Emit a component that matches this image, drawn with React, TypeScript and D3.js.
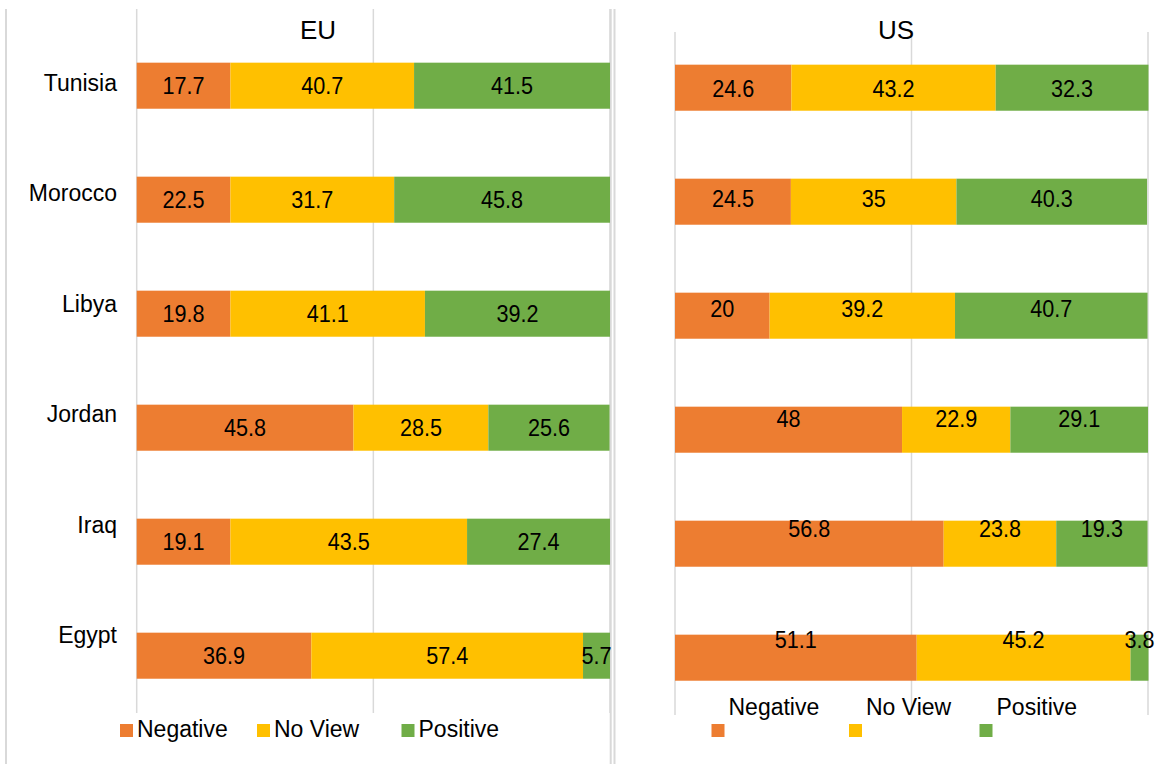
import * as d3 from "d3";

const categories = ["Tunisia", "Morocco", "Libya", "Jordan", "Iraq", "Egypt"];
const seriesNames = ["Negative", "No View", "Positive"];
const seriesColors = ["#ED7D31", "#FFC000", "#70AD47"];
const xTicks = [0, 50, 100];

// EU - numbers printed on the bars
const euNegative = [17.7, 22.5, 19.8, 45.8, 19.1, 36.9];
const euNoView = [40.7, 31.7, 41.1, 28.5, 43.5, 57.4];
const euPositive = [41.5, 45.8, 39.2, 25.6, 27.4, 5.7];

// EU - bar lengths as drawn (some rows don't match their printed numbers)
const euNegativeBar = [19.8, 19.8, 19.8, 45.8, 19.8, 36.9];
const euNoViewBar = [38.8, 34.6, 41.1, 28.5, 50.0, 57.4];
const euPositiveBar = [41.4, 45.6, 39.1, 25.6, 30.2, 5.7];

// US
const usNegative = [24.6, 24.5, 20, 48, 56.8, 51.1];
const usNoView = [43.2, 35, 39.2, 22.9, 23.8, 45.2];
const usPositive = [32.3, 40.3, 40.7, 29.1, 19.3, 3.8];

const FONT = "'Liberation Sans', Arial, sans-serif";
const GRID = "#d9d9d9";

function toRows(a, b, c) {
  return categories.map((cat, i) => ({
    category: cat,
    [seriesNames[0]]: a[i],
    [seriesNames[1]]: b[i],
    [seriesNames[2]]: c[i],
  }));
}

const stacker = d3.stack().keys(seriesNames);

function Panel({
  title,
  titleX,
  barRows,
  labelRows,
  xRange,
  bandRange,
  gridRange,
  labelYRange,
  showCategories,
}) {
  const x = d3.scaleLinear().domain([0, 100]).range(xRange);
  const y = d3
    .scaleBand()
    .domain(categories)
    .range(bandRange)
    .paddingInner(0.596)
    .paddingOuter(0.298);
  // where the printed numbers sit vertically (null = bar centre)
  const labelY = labelYRange
    ? d3.scalePoint().domain(categories).range(labelYRange)
    : (c) => y(c) + y.bandwidth() / 2;
  const catY = d3.scalePoint().domain(categories).range([82.5, 635]);

  const barStack = stacker(barRows);

  return (
    <g>
      {xTicks.map((t) => (
        <line
          key={t}
          x1={x(t)}
          x2={x(t)}
          y1={gridRange[0]}
          y2={gridRange[1]}
          stroke={GRID}
          strokeWidth={1.5}
        />
      ))}
      <text
        x={titleX}
        y={30}
        dy="0.358em"
        textAnchor="middle"
        fontSize={26}
        fontFamily={FONT}
        fill="#000"
      >
        {title}
      </text>
      {showCategories &&
        categories.map((c) => (
          <text
            key={c}
            x={117}
            y={catY(c)}
            dy="0.358em"
            textAnchor="end"
            fontSize={23}
            fontFamily={FONT}
            fill="#000"
          >
            {c}
          </text>
        ))}
      {barStack.map((layer, si) => (
        <g key={layer.key} fill={seriesColors[si]}>
          {layer.map((d, i) => (
            <rect
              key={i}
              x={x(d[0])}
              y={y(categories[i])}
              width={x(d[1]) - x(d[0])}
              height={y.bandwidth()}
            />
          ))}
        </g>
      ))}
      {barStack.map((layer) =>
        layer.map((d, i) => (
          <text
            key={layer.key + i}
            transform={`translate(${(x(d[0]) + x(d[1])) / 2},${labelY(categories[i])}) scale(0.9,1)`}
            dy="0.358em"
            textAnchor="middle"
            fontSize={24}
            fontFamily={FONT}
            fill="#000"
          >
            {String(labelRows[i][layer.key])}
          </text>
        ))
      )}
    </g>
  );
}

function Legend({ itemX, swatchY, textY }) {
  return (
    <g>
      {seriesNames.map((s, i) => (
        <g key={s}>
          <rect x={itemX[i]} y={swatchY} width={13} height={13} fill={seriesColors[i]} />
          <text
            x={itemX[i] + 17}
            y={textY}
            dy="0.358em"
            fontSize={23}
            fontFamily={FONT}
            fill="#000"
          >
            {s}
          </text>
        </g>
      ))}
    </g>
  );
}

export default function App() {
  const euBars = toRows(euNegativeBar, euNoViewBar, euPositiveBar);
  const euLabels = toRows(euNegative, euNoView, euPositive);
  const usRows = toRows(usNegative, usNoView, usPositive);

  return (
    <svg
      width={1162}
      height={764}
      style={{ position: "absolute", left: 0, top: 0, background: "#fff" }}
    >
      <rect width={1162} height={764} fill="#fff" />
      {/* chart borders */}
      {[6, 610.7, 614.5].map((bx) => (
        <line key={bx} x1={bx} x2={bx} y1={9} y2={764} stroke={GRID} strokeWidth={2} />
      ))}
      <Panel
        title="EU"
        titleX={318}
        barRows={euBars}
        labelRows={euLabels}
        xRange={[136.7, 610]}
        bandRange={[28.7, 712.7]}
        gridRange={[9, 713]}
        labelYRange={null}
        showCategories={true}
      />
      <Panel
        title="US"
        titleX={896}
        barRows={usRows}
        labelRows={usRows}
        xRange={[675, 1148]}
        bandRange={[30.7, 714.7]}
        gridRange={[32, 715]}
        labelYRange={[88, 639]}
        showCategories={false}
      />
      <Legend itemX={[120, 257, 401.5]} swatchY={724} textY={729} />
      <Legend itemX={[711.5, 849, 979.5]} swatchY={724} textY={707} />
    </svg>
  );
}
